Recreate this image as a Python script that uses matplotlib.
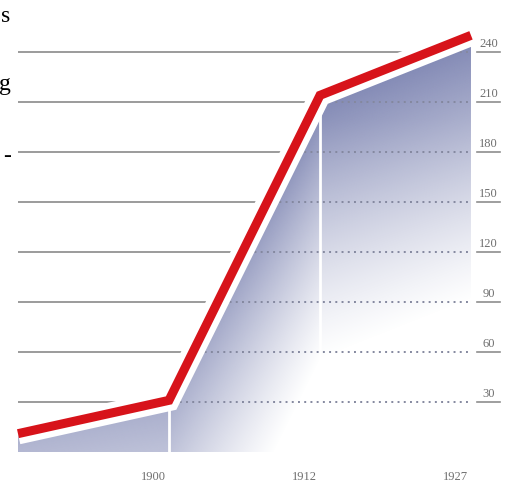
import numpy as np
import matplotlib.pyplot as plt
import matplotlib.transforms as mtransforms
from matplotlib.patches import Polygon
from matplotlib.colors import to_rgb

# series: first point is the unlabelled start of the curve
years = ['', '1900', '1912', '1927']
values = [11, 31, 214, 250]
grid_values = [30, 60, 90, 120, 150, 180, 210, 240]

x = np.arange(len(values))
y = np.array(values, dtype=float)

W, H = 511, 486
fig = plt.figure(figsize=(W / 100, H / 100), dpi=100)
ax = fig.add_axes([0, 0, 1, 1])
ax.axis('off')

xlim = (-0.119, 3.265)
ylim = (-20.4, 271.2)
px_y = H / (ylim[1] - ylim[0])   # pixels per unit on y

# plain guide lines on the open side of the curve
for g in grid_values:
    ax.plot([x[0], x[-1]], [g, g], color='#939393', lw=1.3,
            solid_capstyle='butt', zorder=1)

# area under the curve
verts = np.column_stack([np.r_[x, x[::-1]], np.r_[y, np.zeros_like(y)]])
area = Polygon(verts, closed=True, facecolor='white', edgecolor='none', zorder=2)
ax.add_patch(area)

# shading that fades with depth below the curve
gx = np.linspace(x[0], x[-1], 700)
gy = np.linspace(0, y.max(), 700)
GX, GY = np.meshgrid(gx, gy)
depth = (np.interp(GX, x, y) - GY) * px_y
alpha = np.clip(1 - depth / 265, 0, 1) ** 1.1
alpha *= 0.64 + 0.36 * np.clip(GY / 200, 0, 1)
rgba = np.zeros(GY.shape + (4,))
rgba[..., :3] = to_rgb('#7f86b3')
rgba[..., 3] = alpha
im = ax.imshow(rgba, extent=(x[0], x[-1], 0, y.max()), origin='lower',
               aspect='auto', interpolation='bilinear', zorder=3)
im.set_clip_path(area)

# dotted guide lines inside the shaded area
for g in grid_values:
    ln, = ax.plot([x[0], x[-1]], [g, g], color='#84889f', lw=1.4,
                  ls=(0, (1, 2.2)), zorder=4)
    ln.set_clip_path(area)

# white dividers under the inner points
for xi, yi in zip(x[1:-1], y[1:-1]):
    ax.plot([xi, xi], [0, yi], color='white', lw=2, zorder=5)

# the curve: white halo with the red line on top
ax.plot(x, y, color='white', lw=15.5, solid_joinstyle='miter',
        solid_capstyle='butt', zorder=6)
ax.plot(x, y, color='#d7131a', lw=6.5, solid_joinstyle='miter',
        solid_capstyle='butt', zorder=7)

# value scale on the right
trans = mtransforms.blended_transform_factory(ax.transAxes, ax.transData)
for g in grid_values:
    ax.plot([0.934, 0.978], [g, g], transform=trans, color='#8e8e8e',
            lw=1.2, zorder=1)
    ax.annotate(str(g), xy=(0.956, g), xycoords=trans, xytext=(0, 3.6),
                textcoords='offset points', ha='center', va='baseline',
                fontsize=9, color='#6f6f6f', family='Liberation Serif')

# year labels, right-aligned to their points
for xi, lab in zip(x, years):
    if lab:
        ax.annotate(lab, xy=(xi, -16.8), xytext=(-2, 0),
                    textcoords='offset points', ha='right', va='baseline',
                    fontsize=9, color='#6f6f6f', family='Liberation Serif')

# text from the neighbouring column, at the left edge
for s, px, py in [('s', 10, 22), ('g', 11, 90), ('-', 11, 162)]:
    fig.text(px / W, 1 - py / H, s, ha='right', va='baseline',
             fontsize=17, color='black', family='Liberation Serif')

ax.set_xlim(*xlim)
ax.set_ylim(*ylim)

fig.savefig('out.png', dpi=100)
